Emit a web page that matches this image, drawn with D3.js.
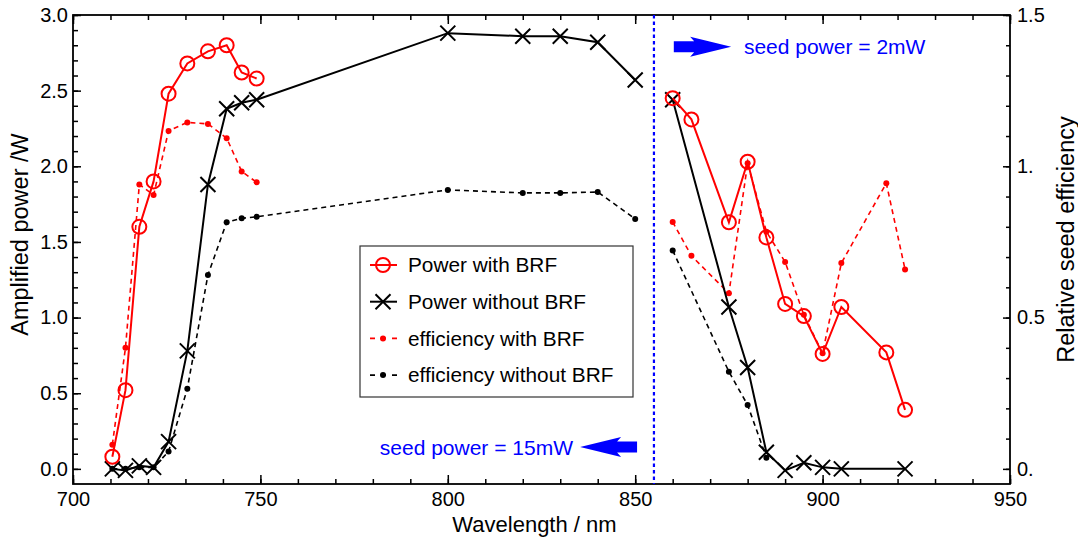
<!DOCTYPE html>
<html><head><meta charset="utf-8">
<script src="https://cdn.jsdelivr.net/npm/d3@7"></script>
<style>
body{margin:0;background:#fff;}
svg{display:block;font-family:"Liberation Sans",Arial,Helvetica,sans-serif;}
</style>
</head><body>
<svg id="chart" width="1078" height="543"></svg>
<script>
// ---------------- data ----------------
const wlLeft = [710.5, 714, 717.7, 721.5, 725.5, 730.5, 736, 741, 745, 749];
const powerBRFLeft = [0.08, 0.52, 1.60, 1.90, 2.48, 2.68, 2.76, 2.80, 2.62, 2.58];
const effBRFLeft = [0.08, 0.40, 0.94, 0.905, 1.117, 1.145, 1.14, 1.093, 0.983, 0.947];

const wlNoBRFLeft = [710.5, 714, 717.7, 721.5, 725.5, 730.5, 736, 741, 745, 749, 800, 820, 830, 840, 850];
const powerNoBRFLeft = [0.0, -0.01, 0.02, 0.01, 0.18, 0.78, 1.88, 2.38, 2.42, 2.44, 2.88, 2.86, 2.86, 2.82, 2.57];
const effNoBRFLeft = [0.0, 0.0, 0.005, 0.005, 0.057, 0.265, 0.641, 0.815, 0.828, 0.833, 0.922, 0.912, 0.912, 0.915, 0.826];

const wlBRFRight = [860, 865, 875, 880, 885, 890, 895, 900, 905, 917, 922];
const powerBRFRight = [2.45, 2.31, 1.63, 2.03, 1.53, 1.09, 1.01, 0.76, 1.07, 0.77, 0.39];
const effBRFRight = [0.816, 0.704, 0.580, 1.01, 0.784, 0.684, 0.509, 0.382, 0.68, 0.944, 0.659];

const wlNoBRFRight = [860, 875, 880, 885, 890, 895, 900, 905, 922];
const powerNoBRFRight = [2.44, 1.07, 0.67, 0.11, -0.01, 0.04, 0.01, 0.0, 0.0];
const wlEffNoBRFRight = [860, 875, 880, 885];
const effNoBRFRight = [0.722, 0.321, 0.211, 0.037];

const xTicks = [700, 750, 800, 850, 900, 950];
const xTickLabels = ["700", "750", "800", "850", "900", "950"];
const yLeftTicks = [0, 0.5, 1, 1.5, 2, 2.5, 3];
const yLeftTickLabels = ["0.0", "0.5", "1.0", "1.5", "2.0", "2.5", "3.0"];
const yRightTicks = [0, 0.5, 1, 1.5];
const yRightTickLabels = ["0.", "0.5", "1.", "1.5"];
const legendLabels = ["Power with BRF", "Power without BRF", "efficiency with BRF", "efficiency without BRF"];

const dividerWl = 855;
const annRight = {text: "seed power = 2mW", wlFrom: 860.3, wlTo: 875.6, textWl: 879, y: 2.79, textY: 2.745, anchor: "start"};
const annLeft = {text: "seed power = 15mW", wlFrom: 850.5, wlTo: 835.3, textWl: 833.4, y: 0.145, textY: 0.093, anchor: "end"};

// ---------------- layout ----------------
const svg = d3.select("#chart");
const L = 73, R = 1010, T = 15, B = 484;
const x = d3.scaleLinear([700, 950], [L, R]);
const yL = d3.scaleLinear([-0.1, 3.0], [B, T]);
const yR = d3.scaleLinear([-0.05, 1.5], [B, T]);
const RED = "#ff0000", BLUE = "#0000ff";
const FS = 20;

function styleAxis(g) {
  g.select(".domain").remove();
  g.selectAll(".tick line").attr("stroke", "#000").attr("stroke-width", 1.5);
  g.selectAll("text").attr("font-size", FS).attr("fill", "#000").attr("font-family", "Liberation Sans, Arial, sans-serif");
}
const minorX = d3.range(700, 951, 10);
const minorYL = d3.range(0, 31).map(i => i / 10);
const minorYR = d3.range(0, 16).map(i => i / 10);

// bottom
svg.append("g").attr("transform", `translate(0,${B})`)
  .call(d3.axisBottom(x).tickValues(minorX).tickSize(-5).tickFormat("")).call(styleAxis);
svg.append("g").attr("transform", `translate(0,${B})`)
  .call(d3.axisBottom(x).tickValues(xTicks).tickSize(-9).tickPadding(8).tickFormat((d, i) => xTickLabels[i])).call(styleAxis);
// top
svg.append("g").attr("transform", `translate(0,${T})`)
  .call(d3.axisTop(x).tickValues(minorX).tickSize(-5).tickFormat("")).call(styleAxis);
svg.append("g").attr("transform", `translate(0,${T})`)
  .call(d3.axisTop(x).tickValues(xTicks).tickSize(-9).tickFormat("")).call(styleAxis);
// left
svg.append("g").attr("transform", `translate(${L},0)`)
  .call(d3.axisLeft(yL).tickValues(minorYL).tickSize(-5).tickFormat("")).call(styleAxis);
svg.append("g").attr("transform", `translate(${L},0)`)
  .call(d3.axisLeft(yL).tickValues(yLeftTicks).tickSize(-8).tickPadding(5).tickFormat((d, i) => yLeftTickLabels[i])).call(styleAxis);
// right
svg.append("g").attr("transform", `translate(${R},0)`)
  .call(d3.axisRight(yR).tickValues(minorYR).tickSize(-4).tickFormat("")).call(styleAxis);
svg.append("g").attr("transform", `translate(${R},0)`)
  .call(d3.axisRight(yR).tickValues(yRightTicks).tickSize(-7).tickPadding(7).tickFormat((d, i) => yRightTickLabels[i])).call(styleAxis);

// frame
svg.append("rect").attr("x", L).attr("y", T).attr("width", R - L).attr("height", B - T)
  .attr("fill", "none").attr("stroke", "#000").attr("stroke-width", 1.8);

// axis titles
svg.append("text").attr("x", (L + R) / 2 - 7).attr("y", 532).attr("text-anchor", "middle")
  .attr("font-size", 22).text("Wavelength / nm");
svg.append("text").attr("transform", `translate(28,${(T + B) / 2 - 15}) rotate(-90)`).attr("text-anchor", "middle")
  .attr("font-size", 23.5).text("Amplified power /W");
svg.append("text").attr("transform", `translate(1074,${(T + B) / 2 - 10}) rotate(-90)`).attr("text-anchor", "middle")
  .attr("font-size", 23.5).text("Relative seed efficiency");

// divider
svg.append("line").attr("x1", x(dividerWl)).attr("x2", x(dividerWl)).attr("y1", T).attr("y2", B)
  .attr("stroke", BLUE).attr("stroke-width", 2.2).attr("stroke-dasharray", "3.5,3");

// series
const zip = (a, b) => a.map((v, i) => [v, b[i]]);
const lineL = d3.line().x(d => x(d[0])).y(d => yL(d[1]));
const lineR = d3.line().x(d => x(d[0])).y(d => yR(d[1]));
const plot = svg.append("g");

function dashedSeries(data, color) {
  plot.append("path").attr("d", lineR(data)).attr("fill", "none").attr("stroke", color)
    .attr("stroke-width", 1.6).attr("stroke-dasharray", "5,4");
  plot.selectAll(null).data(data).enter().append("circle")
    .attr("cx", d => x(d[0])).attr("cy", d => yR(d[1])).attr("r", 3).attr("fill", color);
}
function solidSeries(data, color, marker) {
  plot.append("path").attr("d", lineL(data)).attr("fill", "none").attr("stroke", color).attr("stroke-width", 2);
  if (marker === "circle") {
    plot.selectAll(null).data(data).enter().append("circle")
      .attr("cx", d => x(d[0])).attr("cy", d => yL(d[1])).attr("r", 7)
      .attr("fill", "none").attr("stroke", color).attr("stroke-width", 2);
  } else {
    plot.selectAll(null).data(data).enter().append("path")
      .attr("transform", d => `translate(${x(d[0])},${yL(d[1])})`)
      .attr("d", "M-7.5,-7.5L7.5,7.5M-7.5,7.5L7.5,-7.5")
      .attr("stroke", color).attr("stroke-width", 2).attr("fill", "none");
  }
}
dashedSeries(zip(wlNoBRFLeft, effNoBRFLeft), "#000");
dashedSeries(zip(wlEffNoBRFRight, effNoBRFRight), "#000");
dashedSeries(zip(wlLeft, effBRFLeft), RED);
dashedSeries(zip(wlBRFRight, effBRFRight), RED);
solidSeries(zip(wlNoBRFLeft, powerNoBRFLeft), "#000", "x");
solidSeries(zip(wlNoBRFRight, powerNoBRFRight), "#000", "x");
solidSeries(zip(wlLeft, powerBRFLeft), RED, "circle");
solidSeries(zip(wlBRFRight, powerBRFRight), RED, "circle");

// annotations (arrows + text)
function arrow(a) {
  const x0 = x(a.wlFrom), x1 = x(a.wlTo), yy = yL(a.y);
  const dir = Math.sign(x1 - x0), head = 37 * dir, hs = 5.5, hh = 10;
  const xh = x1 - head;
  const p = d3.path();
  p.moveTo(x0, yy - hs); p.lineTo(xh, yy - hs); p.lineTo(xh - 4 * dir, yy - hh); p.lineTo(x1, yy);
  p.lineTo(xh - 4 * dir, yy + hh); p.lineTo(xh, yy + hs); p.lineTo(x0, yy + hs); p.closePath();
  svg.append("path").attr("d", p.toString()).attr("fill", BLUE);
  svg.append("text").attr("x", x(a.textWl)).attr("y", yL(a.textY)).attr("fill", BLUE)
    .attr("text-anchor", a.anchor).attr("font-size", 21).text(a.text);
}
arrow(annRight); arrow(annLeft);

// legend
const lg = svg.append("g").attr("transform", "translate(360,246)");
lg.append("rect").attr("width", 273).attr("height", 151).attr("fill", "#fff")
  .attr("stroke", "#333").attr("stroke-width", 1.2);
legendLabels.forEach((lab, i) => {
  const cy = 19 + i * 36.7;
  const g = lg.append("g").attr("transform", `translate(0,${cy})`);
  const color = (i % 2 === 0) ? RED : "#000";
  if (i < 2) {
    g.append("line").attr("x1", 10).attr("x2", 37).attr("stroke", color).attr("stroke-width", 2);
    if (i === 0) g.append("circle").attr("cx", 23).attr("r", 7).attr("fill", "none").attr("stroke", color).attr("stroke-width", 2);
    else g.append("path").attr("d", "M15.5,-7.5L30.5,7.5M15.5,7.5L30.5,-7.5").attr("stroke", color).attr("stroke-width", 2);
  } else {
    g.append("line").attr("x1", 10).attr("x2", 37).attr("stroke", color).attr("stroke-width", 1.6).attr("stroke-dasharray", "5,6");
    g.append("circle").attr("cx", 23).attr("r", 3).attr("fill", color);
  }
  g.append("text").attr("x", 48).attr("dy", "0.35em").attr("font-size", 20.8).text(lab);
});
</script>
</body></html>
